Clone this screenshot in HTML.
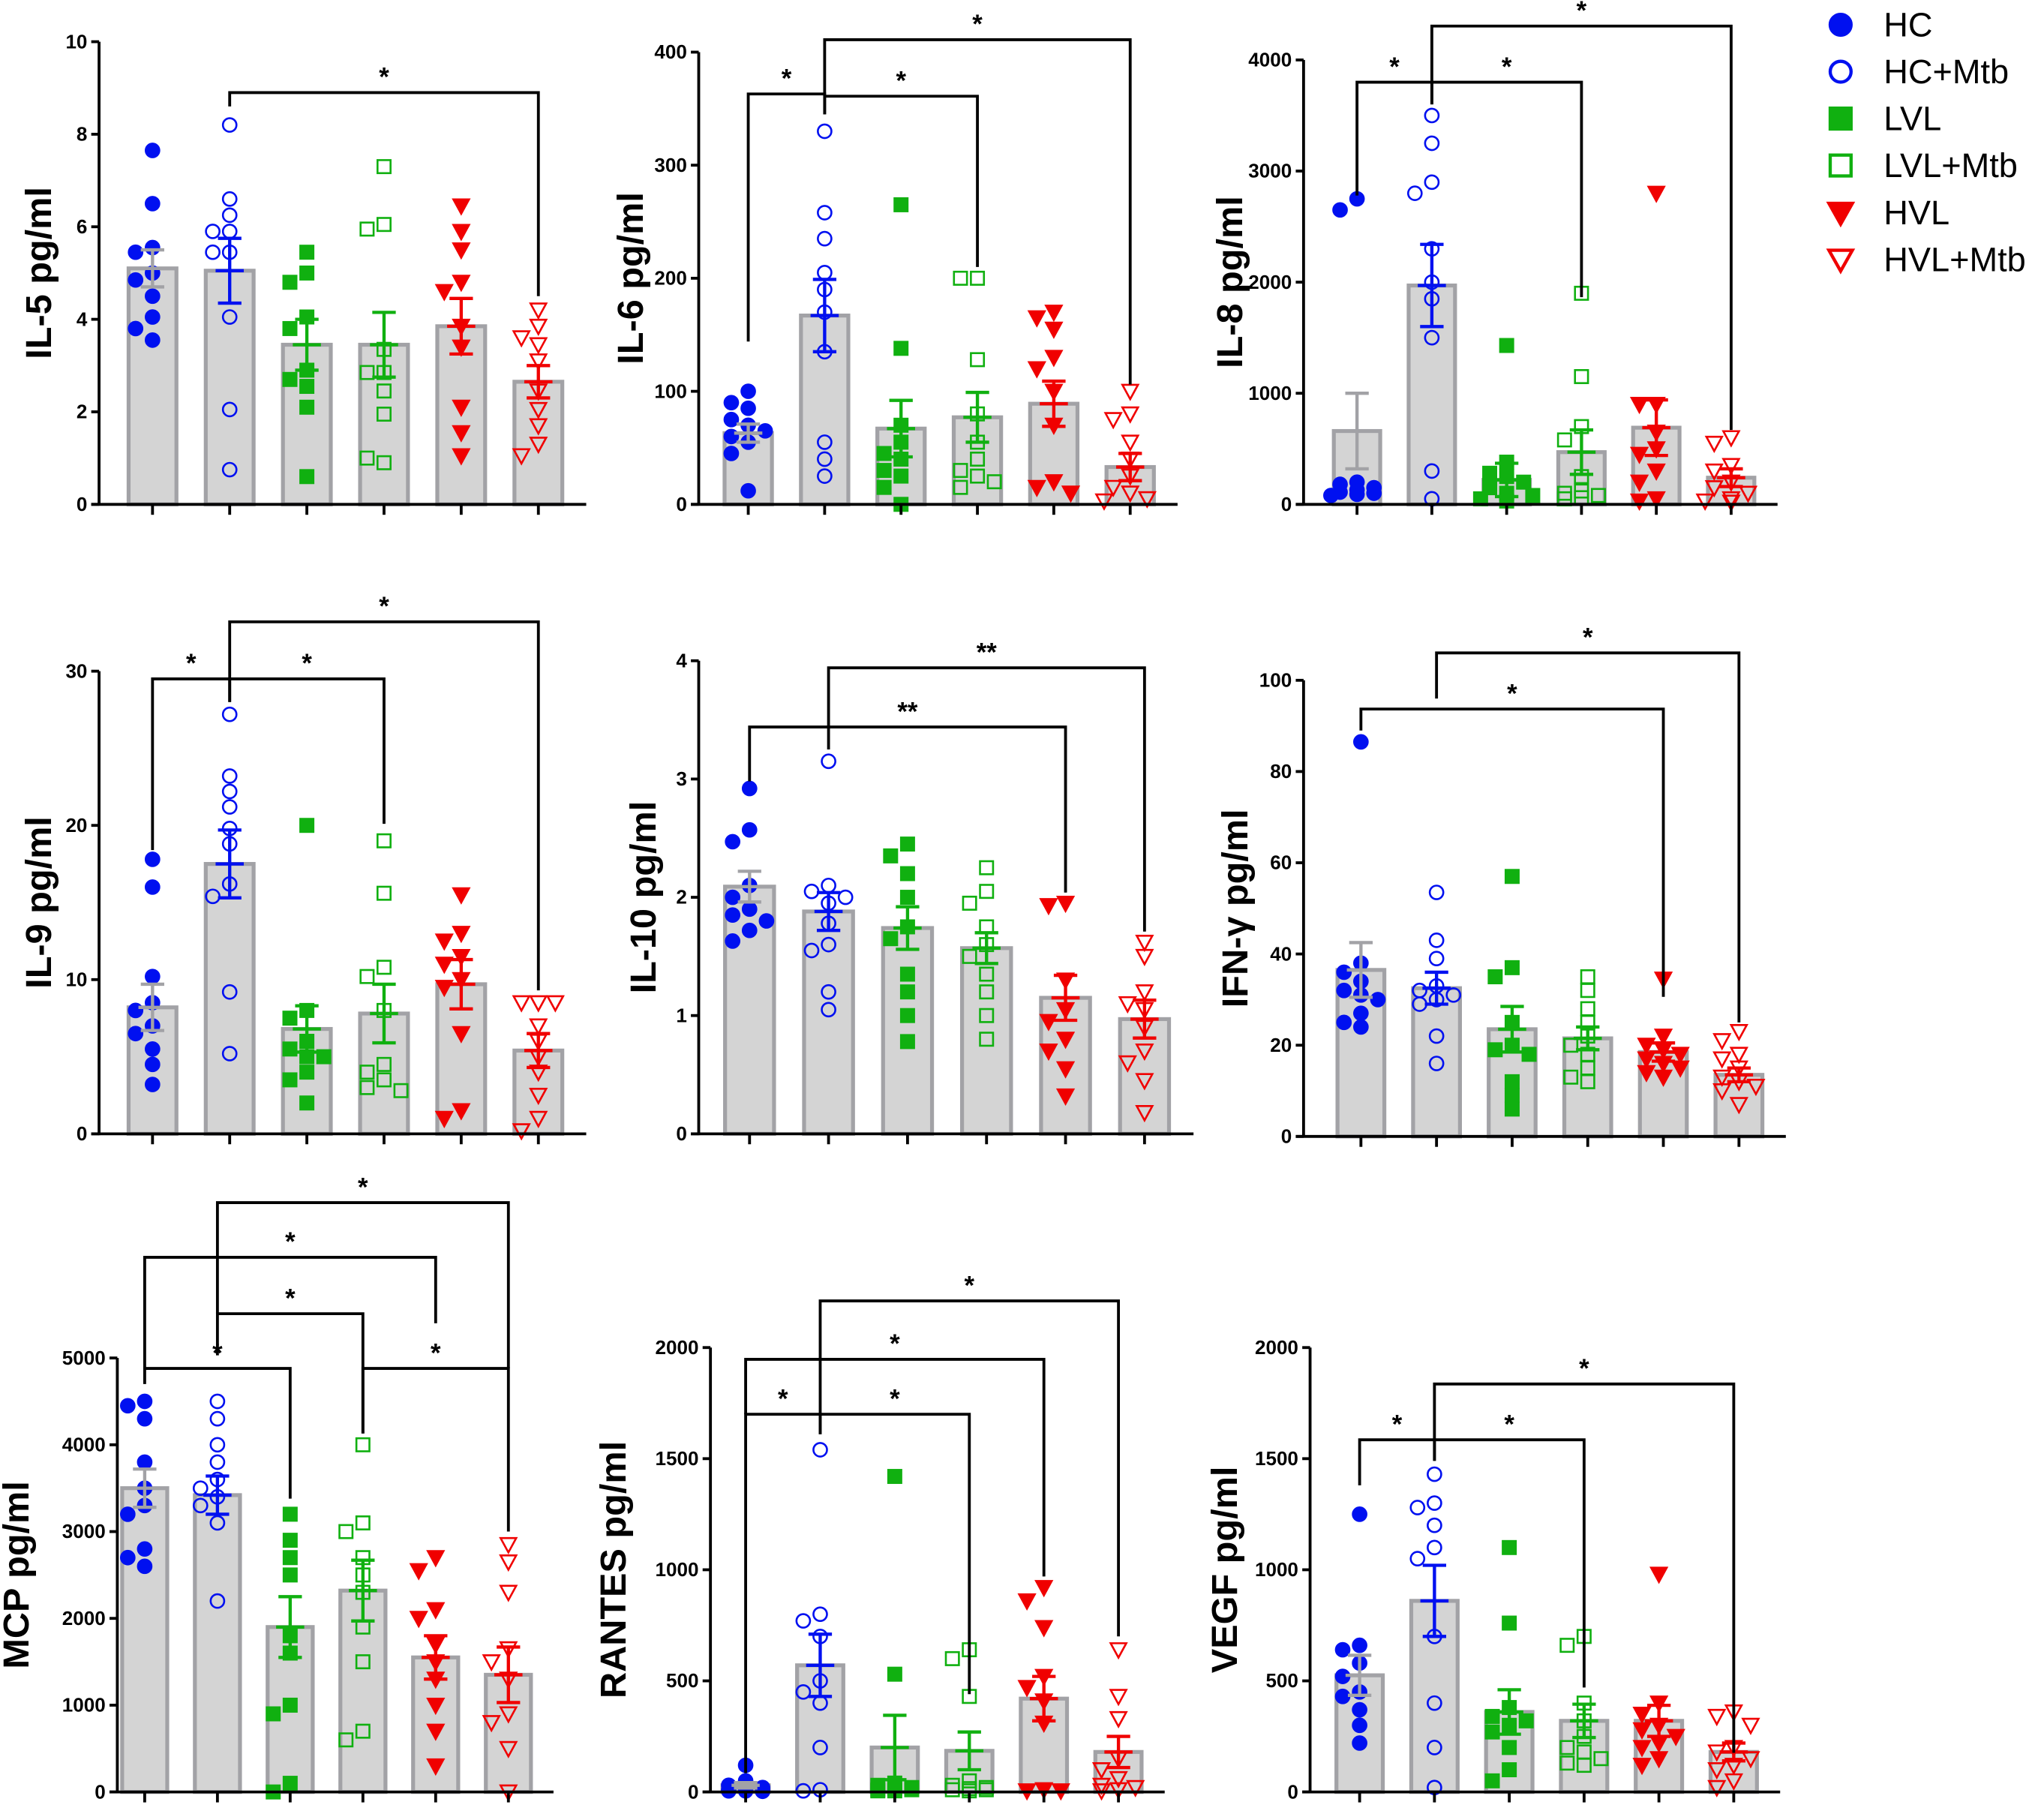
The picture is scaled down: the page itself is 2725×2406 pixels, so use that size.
<!DOCTYPE html>
<html><head><meta charset="utf-8"><style>
html,body{margin:0;padding:0;background:#fff;}
svg{display:block;}
text{font-family:"Liberation Sans",Arial,sans-serif;font-weight:bold;}
</style></head><body>
<svg id="chart" width="2725" height="2406" viewBox="0 0 1568 1385" preserveAspectRatio="none" xmlns="http://www.w3.org/2000/svg">
<g id="legend"></g>
</svg>
<script>
// ---------- DATA ----------
const groups = ["HC","HC+Mtb","LVL","LVL+Mtb","HVL","HVL+Mtb"];

const il5Ticks = [0,2,4,6,8,10];
const il5Means = [5.1,5.05,3.45,3.45,3.85,2.65];
const il5Sems = [0.4,0.7,0.55,0.7,0.6,0.35];
const il5Points = [[7.65,6.5,5.55,5.45,5.0,4.85,4.5,4.05,3.8,3.55],[8.2,6.6,6.25,5.9,5.9,5.45,5.45,4.05,2.05,0.75],[5.45,5.0,4.8,4.05,3.8,2.9,2.7,2.55,2.1,0.6],[7.3,6.05,5.95,3.35,2.85,2.85,2.45,1.95,0.9,1.0],[6.45,5.9,5.5,4.8,4.6,3.85,3.4,2.1,1.55,1.05],[4.2,3.85,3.6,3.45,3.1,2.45,2.05,1.7,1.3,1.05]];
const il5Brackets = [[1,5,8.9,8.6,4.5,"*"]];

const il6Ticks = [0,100,200,300,400];
const il6Means = [63,167,67,77,89,33];
const il6Sems = [8,32,25,22,20,12];
const il6Points = [[100,90,85,75,70,65,60,55,45,12],[330,258,235,205,190,170,135,55,40,25],[265,138,70,55,45,40,30,25,15,0],[200,200,128,80,55,40,30,25,20,15],[170,165,155,130,120,100,70,20,15,10],[100,80,75,55,40,25,15,10,5,3]];
const il6Brackets = [[0,1,363,144,345,"*"],[1,3,361,345,210,"*"],[1,5,411,361,106,"*"]];

const il8Ticks = [0,1000,2000,3000,4000];
const il8Means = [660,1970,220,470,690,240];
const il8Sems = [340,370,150,200,250,80];
const il8Points = [[2750,2650,200,180,150,130,110,100,90,80],[3500,3250,2900,2800,2300,2000,1850,1500,300,50],[1430,380,280,250,200,150,100,80,50,30],[1900,1150,700,580,250,120,100,80,60,50],[2800,900,900,650,500,450,300,200,50,30],[600,550,350,300,200,150,100,50,30,20]];
const il8Brackets = [[0,1,3800,2780,3600,"*"],[1,3,3800,3600,1865,"*"],[1,5,4305,3800,670,"*"]];

const il9Ticks = [0,10,20,30];
const il9Means = [8.2,17.5,6.8,7.8,9.7,5.4];
const il9Sems = [1.5,2.2,1.5,1.9,1.6,1.1];
const il9Points = [[17.8,16,10.2,8.5,8,7,6.5,5.5,4.5,3.2],[27.2,23.2,22.2,21.2,19.8,18.8,16.2,15.4,9.2,5.2],[20,8,7.5,6,5.5,5,5,4,3.5,2],[19,15.6,10.8,10.2,8,4.5,4,3.5,3,2.8],[15.5,13,12.5,11.5,11,10,9.5,6.5,1.5,1],[8.5,8.5,8.5,7,6,5,4,2.5,1,0.2]];
const il9Brackets = [[0,1,29.5,18.4,28,"*"],[1,3,29.5,28,20.1,"*"],[1,5,33.2,29.5,9.3,"*"]];

const il10Ticks = [0,1,2,3,4];
const il10Means = [2.09,1.88,1.74,1.57,1.15,0.97];
const il10Sems = [0.13,0.16,0.18,0.13,0.19,0.16];
const il10Points = [[2.92,2.57,2.47,2.1,2.0,1.9,1.85,1.8,1.72,1.63],[3.15,2.1,2.05,2.0,1.95,1.78,1.6,1.55,1.2,1.05],[2.45,2.35,2.2,2.0,1.75,1.65,1.35,1.2,1.0,0.78],[2.25,2.05,1.95,1.75,1.6,1.5,1.35,1.2,1.0,0.8],[1.95,1.93,1.3,1.05,0.95,0.8,0.7,0.55,0.32],[1.62,1.5,1.2,1.1,1.05,0.9,0.7,0.6,0.45,0.18]];
const il10Brackets = [[0,4,3.44,2.98,2.04,"**"],[1,5,3.94,3.25,1.71,"**"]];

const ifnTicks = [0,20,40,60,80,100];
const ifnMeans = [36.5,32.5,23.5,21.5,18.5,13.5];
const ifnSems = [6,3.5,5,2.5,2,1.5];
const ifnPoints = [[86.5,38,36,34,32,31,30,27,25,24],[53.5,43,39,33,32,31,30,29,22,16],[57,37,35,25,20,19,18,12,9,6],[35,32,28,25,22,20,18,15,13,12],[34.5,22,20,19,18,17,16,15,14,13],[23,21,18,17,15,13,12,11,10,7]];
const ifnBrackets = [[0,4,93.7,89,30.6,"*"],[1,5,106,96,25,"*"]];

const mcpTicks = [0,1000,2000,3000,4000,5000];
const mcpMeans = [3500,3420,1900,2320,1550,1350];
const mcpSems = [220,220,350,350,250,320];
const mcpPoints = [[4500,4450,4300,3800,3500,3300,3200,2800,2700,2600],[4500,4300,4000,3800,3600,3500,3400,3300,3100,2200],[3200,2900,2700,2500,1800,1600,1000,900,100,0],[4000,3100,3000,2700,2500,2300,1900,1500,700,600],[2700,2550,2100,2000,1700,1500,1300,1000,700,300],[2850,2650,2300,1650,1500,1300,900,800,500,0]];
const mcpBrackets = [[0,2,4880,4700,3380,"*"],[3,5,4880,4130,3000,"*"],[1,3,5510,5030,4130,"*"],[0,4,6160,4880,5400,"*"],[1,5,6790,5510,4880,"*"]];

const rantesTicks = [0,500,1000,1500,2000];
const rantesMeans = [30,570,200,185,420,180];
const rantesSems = [12,140,145,85,100,70];
const rantesPoints = [[120,50,30,20,15,10,10,5,5,3],[1540,800,770,700,500,450,400,200,10,5],[1420,530,40,30,20,15,10,10,5,5],[640,600,430,50,30,20,15,10,10,5],[920,860,740,520,470,410,310,10,5,5],[640,430,330,150,100,60,30,20,10,5]];
const rantesBrackets = [[0,1,1700,85,1610,"*"],[1,3,1700,1610,440,"*"],[0,4,1947,1700,970,"*"],[1,5,2210,1700,700,"*"]];

const vegfTicks = [0,500,1000,1500,2000];
const vegfMeans = [525,860,360,320,320,180];
const vegfSems = [90,160,100,75,70,40];
const vegfPoints = [[1250,660,640,580,520,450,430,370,300,220],[1430,1300,1280,1200,1100,1050,700,400,200,20],[1100,760,380,340,320,300,270,200,100,50],[700,660,400,320,250,200,180,150,130,120],[980,400,350,300,280,250,220,200,150,120],[360,340,300,200,180,150,120,100,50,20]];
const vegfBrackets = [[0,1,1585,1380,1490,"*"],[1,3,1585,1490,470,"*"],[1,5,1836,1585,176,"*"]];

// ---------- LAYOUT ----------
const panels = [
 {id:"il5",label:"IL-5 pg/ml",ticks:il5Ticks,means:il5Means,sems:il5Sems,pts:il5Points,br:il5Brackets,ax:76,y0:387,yT:32,bx:117,dx:59.2,lx:30},
 {id:"il6",label:"IL-6 pg/ml",ticks:il6Ticks,means:il6Means,sems:il6Sems,pts:il6Points,br:il6Brackets,ax:536,y0:387,yT:40,bx:574,dx:58.6,lx:484},
 {id:"il8",label:"IL-8 pg/ml",ticks:il8Ticks,means:il8Means,sems:il8Sems,pts:il8Points,br:il8Brackets,ax:1000,y0:387,yT:46,bx:1041,dx:57.4,lx:944},
 {id:"il9",label:"IL-9 pg/ml",ticks:il9Ticks,means:il9Means,sems:il9Sems,pts:il9Points,br:il9Brackets,ax:76,y0:870,yT:515,bx:117,dx:59.2,lx:30},
 {id:"il10",label:"IL-10 pg/ml",ticks:il10Ticks,means:il10Means,sems:il10Sems,pts:il10Points,br:il10Brackets,ax:536,y0:870,yT:507,bx:575,dx:60.6,lx:494},
 {id:"ifn",label:"IFN-γ pg/ml",ticks:ifnTicks,means:ifnMeans,sems:ifnSems,pts:ifnPoints,br:ifnBrackets,ax:1000,y0:872,yT:522,bx:1044,dx:58,lx:948},
 {id:"mcp",label:"MCP pg/ml",ticks:mcpTicks,means:mcpMeans,sems:mcpSems,pts:mcpPoints,br:mcpBrackets,ax:90,y0:1375,yT:1042,bx:111,dx:55.8,lx:13},
 {id:"rantes",label:"RANTES pg/ml",ticks:rantesTicks,means:rantesMeans,sems:rantesSems,pts:rantesPoints,br:rantesBrackets,ax:545,y0:1375,yT:1034,bx:572,dx:57.2,lx:471},
 {id:"vegf",label:"VEGF pg/ml",ticks:vegfTicks,means:vegfMeans,sems:vegfSems,pts:vegfPoints,br:vegfBrackets,ax:1005,y0:1375,yT:1034,bx:1043,dx:57.4,lx:940}
];
const colors=["#0010f0","#0010f0","#10b010","#10b010","#f00000","#f00000"];
const filled=[true,false,true,false,true,false];
const shapes=["circle","circle","square","square","tri","tri"];
const NS="http://www.w3.org/2000/svg";
const svg=document.getElementById("chart");
function mk(tag,attrs,parent){const e=document.createElementNS(NS,tag);for(const k in attrs)e.setAttribute(k,attrs[k]);parent.appendChild(e);return e;}

function marker(parent,g,x,y){
  const c=colors[g],f=filled[g]?c:"none",s=shapes[g];
  let e;
  if(s==="circle") e=mk("circle",{cx:x,cy:y,r:5.2,fill:f,stroke:c,"stroke-width":1.5},parent);
  else if(s==="square") e=mk("rect",{x:x-5,y:y-5,width:10,height:10,fill:f,stroke:c,"stroke-width":1.5},parent);
  else e=mk("polygon",{points:`${x-6},${y-5} ${x+6},${y-5} ${x},${y+6}`,fill:f,stroke:c,"stroke-width":1.5},parent);
  
  
}
const slots=[0,-13,13,-7,7,-20,20];

panels.forEach(p=>{
  const max=p.ticks[p.ticks.length-1];
  const ys=v=>p.y0-(v/max)*(p.y0-p.yT);
  const xs=i=>p.bx+i*p.dx;
  const g=mk("g",{},svg);
  
  
  const bw=p.dx*0.62;
  p.means.forEach((m,i)=>{
    const r=mk("rect",{x:xs(i)-bw/2,y:ys(m),width:bw,height:p.y0-ys(m),fill:"#d4d4d4",stroke:"#a2a2a6","stroke-width":3},g);
    
    
  });
  p.pts.forEach((arr,gi)=>{
    const placed=[];
    arr.forEach(v=>{
      const y=ys(v);
      let best=0,bestC=1e9;
      for(const o of slots){
        const c=placed.filter(q=>Math.hypot(q[0]-o,q[1]-y)<10.5).length;
        if(c<bestC){bestC=c;best=o;if(c===0)break;}
      }
      placed.push([best,y]);
      marker(g,gi,xs(gi)+best,y);
    });
  });
  p.means.forEach((m,i)=>{
    const c=i===0?"#a2a2a6":colors[i];
    const eg=mk("g",{stroke:c,"stroke-width":2.5},g);
    
    
    const x=xs(i),hi=ys(m+p.sems[i]),lo=ys(m-p.sems[i]),w=9;
    mk("line",{x1:x,y1:hi,x2:x,y2:lo},eg);
    mk("line",{x1:x-w,y1:hi,x2:x+w,y2:hi},eg);
    mk("line",{x1:x-w,y1:lo,x2:x+w,y2:lo},eg);
    mk("line",{x1:x-w*1.2,y1:ys(m),x2:x+w*1.2,y2:ys(m)},eg);
  });
  const axg=mk("g",{stroke:"#000","stroke-width":2.2},g);
  
  
  const xEnd=xs(5)+p.dx*0.62;
  mk("line",{x1:p.ax,y1:p.yT,x2:p.ax,y2:p.y0+1},axg);
  mk("line",{x1:p.ax-6,y1:p.y0,x2:xEnd,y2:p.y0},axg);
  for(let i=0;i<6;i++) mk("line",{x1:xs(i),y1:p.y0,x2:xs(i),y2:p.y0+8},axg);
  p.ticks.forEach(t=>{
    mk("line",{x1:p.ax-6,y1:ys(t),x2:p.ax,y2:ys(t)},axg);
    const tx=mk("text",{x:p.ax-9,y:ys(t)+5,"font-size":15,"text-anchor":"end",fill:"#000"},g);
    tx.textContent=t;
    
    
  });
  const cy=(p.y0+p.yT)/2;
  const yl=mk("text",{x:p.lx,y:cy,"font-size":28,"text-anchor":"middle",transform:`rotate(-90 ${p.lx} ${cy})`,dy:9,fill:"#000"},g);
  yl.textContent=p.label;
  
  
  p.br.forEach(b=>{
    const [a,c,top,da,dc,lab]=b;
    const bg=mk("g",{},g);
    
    
    mk("polyline",{points:`${xs(a)},${ys(da)} ${xs(a)},${ys(top)} ${xs(c)},${ys(top)} ${xs(c)},${ys(dc)}`,fill:"none",stroke:"#000","stroke-width":2.2},bg);
    const t=mk("text",{x:(xs(a)+xs(c))/2,y:ys(top)-5,"font-size":20,"text-anchor":"middle",fill:"#000"},bg);
    t.textContent=lab;
  });
});

const lg=document.getElementById("legend");
groups.forEach((name,i)=>{
  const y=19+i*36;
  const e=mk("g",{},lg);
  
  
  const c=colors[i],f=filled[i]?c:"#fff";
  if(shapes[i]==="circle") mk("circle",{cx:1412,cy:y,r:8,fill:f,stroke:c,"stroke-width":2.5},e);
  else if(shapes[i]==="square") mk("rect",{x:1404,y:y-8,width:16,height:16,fill:f,stroke:c,"stroke-width":2.5},e);
  else mk("polygon",{points:`1403,${y-7} 1421,${y-7} 1412,${y+9}`,fill:f,stroke:c,"stroke-width":2.5},e);
  const t=mk("text",{x:1445,y:y+9,"font-size":26,fill:"#000"},e);
  t.setAttribute("style","font-weight:normal");
  t.textContent=name;
});
</script>
</body></html>
